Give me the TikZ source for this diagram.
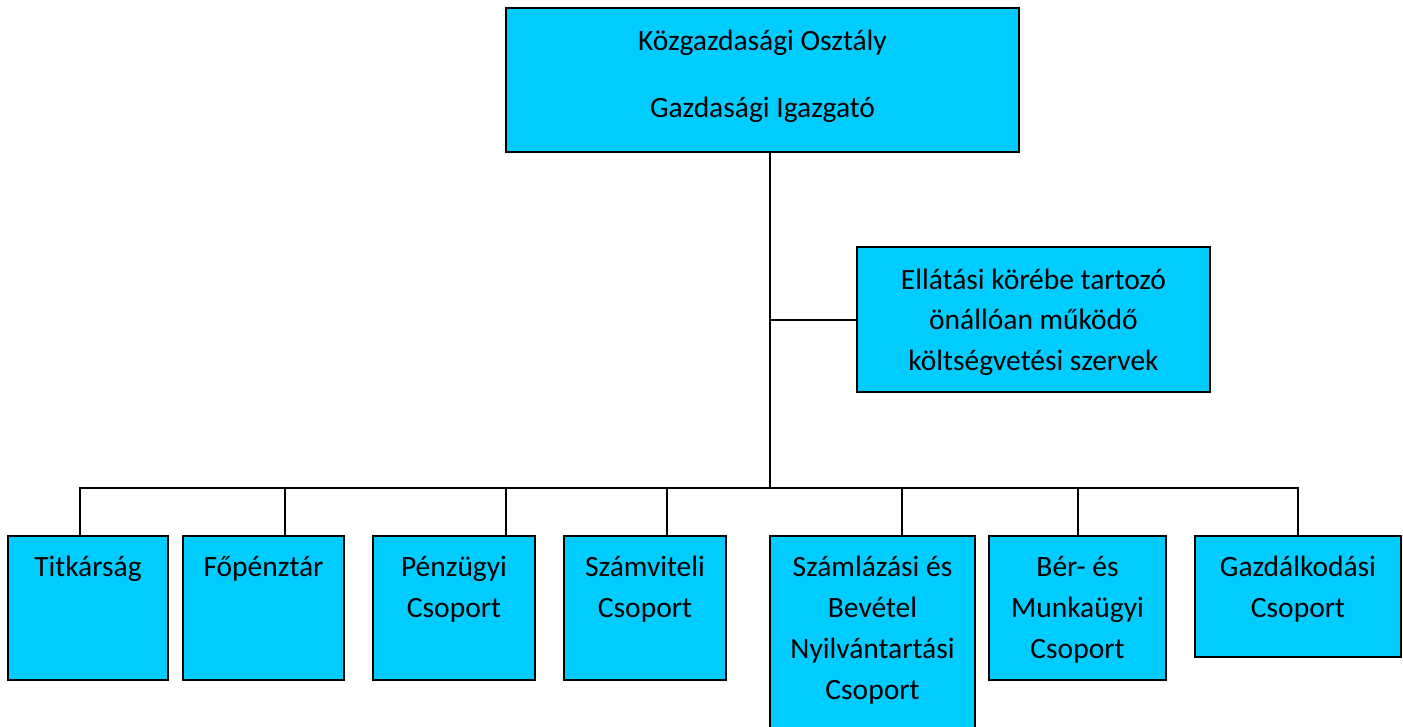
\documentclass[tikz,border=0pt]{standalone}
\usepackage{fontspec}
\setmainfont{Carlito}
\definecolor{boxcyan}{RGB}{0,204,255}
\begin{document}
\begin{tikzpicture}[x=1pt,y=-1pt,
  orgbox/.style={draw=black, fill=boxcyan, line width=2pt, rectangle, inner sep=0pt},
  lbl/.style={font=\fontsize{29.5}{41}\selectfont, align=center, anchor=base, inner sep=0pt},
  conn/.style={draw=black, line width=2pt}]
\useasboundingbox (0,0) rectangle (1403,726);
\begin{scope}
\clip (0,0) rectangle (1403,726);
% boxes
\node[orgbox, minimum width=513pt, minimum height=144pt] (top) at (762.5,80) {};
\node[orgbox, minimum width=353pt, minimum height=145pt] (side) at (1033.5,319.5) {};
\node[orgbox, minimum width=160pt, minimum height=144pt] (b1) at (88,608) {};
\node[orgbox, minimum width=161pt, minimum height=144pt] (b2) at (263.5,608) {};
\node[orgbox, minimum width=162pt, minimum height=144pt] (b3) at (454,608) {};
\node[orgbox, minimum width=162pt, minimum height=144pt] (b4) at (645,608) {};
\node[orgbox, minimum width=205pt, minimum height=194pt] (b5) at (872.5,633) {};
\node[orgbox, minimum width=177pt, minimum height=144pt] (b6) at (1077.5,608) {};
\node[orgbox, minimum width=206pt, minimum height=121pt] (b7) at (1298,596.5) {};
\end{scope}
% labels (base anchor = baseline of the last line)
\node[lbl] (ttop) at (762.5,117) {Közgazdasági Osztály\\[26pt]Gazdasági Igazgató};
\node[lbl, font=\fontsize{29.5}{40.5}\selectfont] (tside) at (1033.5,370) {Ellátási körébe tartozó\\önállóan működő\\költségvetési szervek};
\node[lbl] (t1) at (88,576) {Titkárság};
\node[lbl] (t2) at (263.5,576) {Főpénztár};
\node[lbl] (t3) at (454,617) {Pénzügyi\\Csoport};
\node[lbl] (t4) at (645,617) {Számviteli\\Csoport};
\node[lbl] (t5) at (872.5,699) {Számlázási és\\Bevétel\\Nyilvántartási\\Csoport};
\node[lbl] (t6) at (1077.5,658) {Bér- és\\Munkaügyi\\Csoport};
\node[lbl] (t7) at (1298,617) {Gazdálkodási\\Csoport};
% connectors
\coordinate (trunktop) at (770,0 |- top.south);
\coordinate (bus) at (770,488);
\coordinate (sidej) at (770,0 |- side.west);
\draw[conn] (trunktop) -- (bus);
\draw[conn] (sidej) -- (side.west);
\draw[conn, line cap=rect] (80,488) -- (1298,488);
\draw[conn] (80,488) -- (80,0 |- b1.north);
\draw[conn] (285,488) -- (285,0 |- b2.north);
\draw[conn] (506,488) -- (506,0 |- b3.north);
\draw[conn] (667,488) -- (667,0 |- b4.north);
\draw[conn] (902,488) -- (902,0 |- b5.north);
\draw[conn] (1078,488) -- (1078,0 |- b6.north);
\draw[conn] (1298,488) -- (1298,0 |- b7.north);
\end{tikzpicture}
\end{document}
